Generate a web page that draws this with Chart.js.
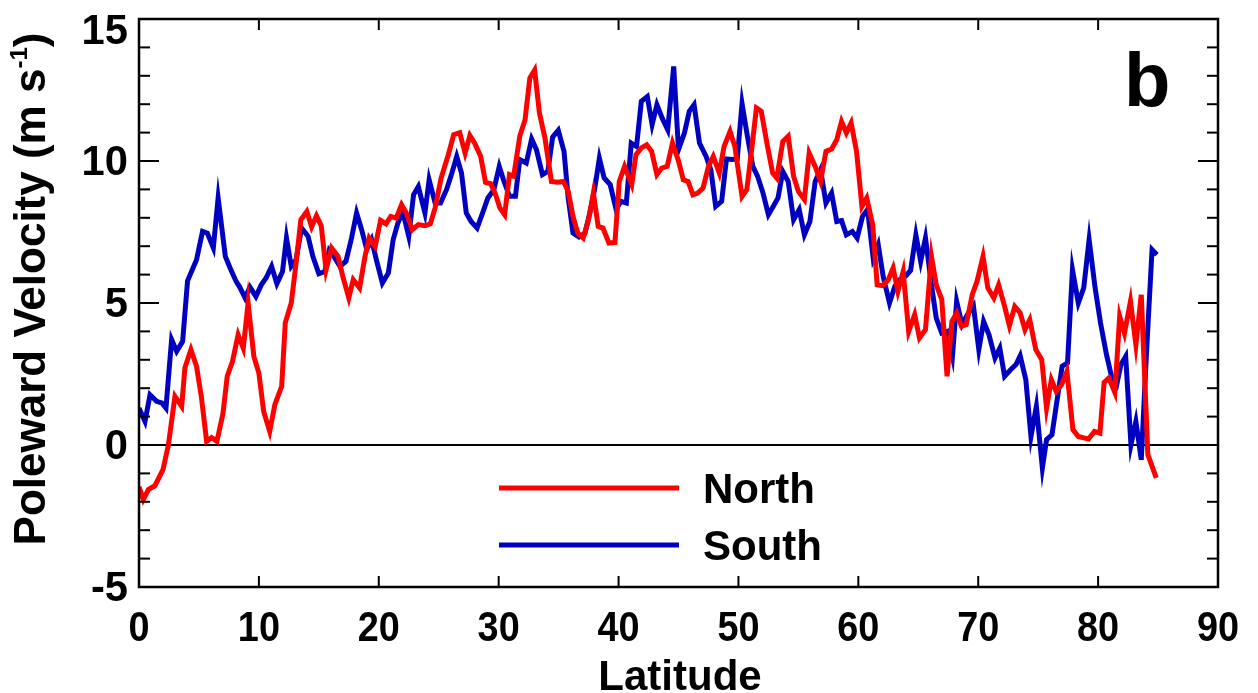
<!DOCTYPE html>
<html>
<head>
<meta charset="utf-8">
<script src="https://cdn.jsdelivr.net/npm/chart.js@4.4.1/dist/chart.umd.min.js"></script>
<style>
  html, body { margin: 0; padding: 0; background: #fff; }
  #wrap { width: 1258px; height: 693px; }
</style>
</head>
<body>
<div id="wrap"><canvas id="velChart" width="1258" height="693"></canvas></div>
<script>
// latitude of each vertex and poleward velocity (m/s)
const northLat = [0, 0.36, 0.78, 1.33, 2.0, 2.45, 3.0, 3.56, 3.83, 4.33, 4.8, 5.2, 5.64, 6.06, 6.5, 7.0, 7.36, 7.8, 8.27, 8.7,
  9.1, 9.58, 10.0, 10.4, 10.9, 11.33, 11.9, 12.2, 12.7, 13.1, 13.5, 14.0, 14.4, 14.8, 15.2, 15.6, 16.06, 16.6, 17.0, 17.5,
  17.87, 18.4, 18.85, 19.2, 19.7, 20.15, 20.6, 21.0, 21.45, 21.9, 22.3, 22.8, 23.3, 23.85, 24.3, 24.7, 25.2, 25.8, 26.25, 26.75,
  27.2, 27.6, 28.0, 28.5, 28.9, 29.33, 29.7, 30.1, 30.5, 30.9, 31.25, 31.76, 32.2, 32.6, 33.0, 33.4, 33.86, 34.4, 34.9, 35.4,
  35.8, 36.2, 36.6, 37.05, 37.5, 37.9, 38.3, 38.7, 39.2, 39.7, 40.06, 40.5, 41.1, 41.45, 41.9, 42.35, 42.76, 43.2, 43.6, 44.06,
  44.5, 45.0, 45.4, 45.8, 46.2, 46.6, 47.05, 47.5, 47.9, 48.4, 48.8, 49.3, 49.7, 50.3, 50.7, 51.1, 51.5, 51.9, 52.4, 52.85,
  53.2, 53.7, 54.15, 54.6, 55.0, 55.5, 55.9, 56.4, 56.85, 57.3, 57.77, 58.2, 58.6, 59.0, 59.4, 59.85, 60.3, 60.7, 61.2, 61.57,
  62.0, 62.5, 62.9, 63.3, 63.74, 64.2, 64.7, 65.1, 65.6, 66.1, 66.5, 66.96, 67.4, 67.8, 68.2, 68.6, 69.0, 69.5, 69.9, 70.4,
  70.8, 71.3, 71.7, 72.2, 72.6, 73.05, 73.5, 73.9, 74.3, 74.8, 75.3, 75.7, 76.1, 76.5, 76.95, 77.4, 77.9, 78.35, 78.8, 79.2,
  79.7, 80.15, 80.5, 80.9, 81.4, 81.8, 82.2, 82.7, 83.15, 83.6, 84.15, 84.85];
const northVel = [-1.47, -1.92, -1.57, -1.43, -0.87, 0.0, 1.71, 1.36, 2.72, 3.36, 2.77, 1.7, 0.13, 0.26, 0.13, 1.1, 2.42, 2.95, 3.88, 3.41,
  5.0, 3.12, 2.53, 1.18, 0.48, 1.42, 2.06, 4.3, 5.0, 6.4, 7.93, 8.22, 7.68, 8.07, 7.72, 6.17, 6.94, 6.64, 5.94, 5.18,
  5.82, 5.53, 6.64, 7.29, 6.99, 7.91, 7.79, 8.05, 7.99, 8.46, 8.17, 7.58, 7.76, 7.72, 7.79, 8.35, 9.4, 10.22, 10.93, 11.0,
  10.28, 10.9, 10.63, 10.16, 9.25, 9.2, 8.87, 8.35, 8.11, 9.52, 9.46, 10.87, 11.45, 12.92, 13.2, 11.69, 10.81, 9.28, 9.25, 9.28,
  8.93, 8.05, 7.46, 7.29, 7.93, 8.87, 7.7, 7.64, 7.11, 7.13, 9.28, 9.81, 9.17, 10.22, 10.46, 10.57, 10.34, 9.52, 9.75, 9.81,
  10.63, 10.0, 9.34, 9.28, 8.81, 8.87, 9.05, 9.81, 10.16, 9.58, 10.51, 11.04, 10.51, 8.75, 8.99, 10.4, 11.87, 11.75, 10.57, 9.58,
  9.4, 10.69, 10.87, 9.46, 8.93, 8.64, 10.28, 9.81, 9.28, 10.34, 10.42, 10.75, 11.39, 10.99, 11.34, 10.34, 8.4, 8.7, 7.75, 5.64,
  5.61, 5.82, 6.23, 5.41, 6.11, 4.0, 4.59, 3.77, 4.06, 6.64, 5.64, 5.12, 2.42, 4.35, 4.65, 4.18, 4.24, 5.29, 5.76, 6.64,
  5.53, 5.18, 5.64, 4.88, 4.2, 4.88, 4.65, 4.06, 4.41, 3.36, 3.0, 1.3, 2.3, 1.89, 2.12, 2.59, 0.54, 0.3, 0.25, 0.21,
  0.48, 0.42, 2.2, 2.36, 1.85, 4.53, 3.94, 5.06, 3.53, 5.29, -0.34, -1.16];

const southLat = [0, 0.5, 0.92, 1.47, 1.9, 2.25, 2.72, 3.14, 3.64, 4.05, 4.8, 5.3, 5.7, 6.2, 6.6, 7.2, 7.6, 8.1, 8.4, 8.85,
  9.25, 9.75, 10.2, 10.6, 11.06, 11.5, 11.97, 12.3, 12.7, 13.1, 13.56, 14.1, 14.5, 15.0, 15.5, 15.87, 16.26, 16.76, 17.26, 17.73,
  18.15, 18.57, 19.0, 19.4, 19.8, 20.3, 20.8, 21.2, 21.6, 22.0, 22.5, 22.9, 23.3, 23.85, 24.2, 24.7, 25.15, 25.65, 26.1, 26.5,
  26.9, 27.3, 27.7, 28.2, 28.7, 29.1, 29.6, 30.05, 30.4, 30.9, 31.4, 31.76, 32.3, 32.75, 33.15, 33.65, 34.1, 34.5, 34.97, 35.45,
  35.8, 36.2, 36.7, 37.2, 37.6, 38.0, 38.4, 38.8, 39.3, 39.8, 40.2, 40.65, 41.06, 41.5, 41.9, 42.4, 42.8, 43.2, 43.65, 44.1,
  44.6, 45.0, 45.5, 45.9, 46.3, 46.75, 47.3, 47.7, 48.1, 48.6, 49.0, 49.45, 49.9, 50.3, 50.7, 51.2, 51.6, 52.05, 52.5, 52.9,
  53.3, 53.7, 54.15, 54.6, 55.07, 55.5, 55.96, 56.4, 56.85, 57.3, 57.77, 58.2, 58.6, 59.0, 59.5, 59.9, 60.35, 60.77, 61.24, 61.66,
  62.07, 62.6, 63.05, 63.5, 63.97, 64.36, 64.8, 65.2, 65.6, 66.1, 66.5, 66.96, 67.4, 67.85, 68.2, 68.65, 69.1, 69.6, 70.05, 70.45,
  70.9, 71.4, 71.8, 72.2, 72.7, 73.15, 73.5, 73.97, 74.4, 74.85, 75.35, 75.7, 76.15, 76.5, 77.0, 77.45, 77.86, 78.35, 78.8, 79.25,
  79.75, 80.2, 80.7, 81.15, 81.55, 81.9, 82.3, 82.74, 83.15, 83.6, 84.05, 84.5, 84.9];
const southVel = [1.3, 0.83, 1.77, 1.54, 1.48, 1.3, 3.71, 3.3, 3.65, 5.78, 6.52, 7.52, 7.46, 6.94, 8.7, 6.64, 6.23, 5.76, 5.56, 5.18,
  5.56, 5.23, 5.64, 5.88, 6.29, 5.68, 6.11, 7.29, 6.29, 6.52, 7.64, 7.35, 6.64, 6.03, 6.11, 6.85, 6.64, 6.29, 6.47, 7.29,
  8.17, 7.58, 6.88, 7.23, 6.52, 5.7, 6.06, 7.23, 7.82, 8.22, 7.35, 8.81, 9.1, 8.17, 9.34, 8.52, 8.52, 8.99, 9.58, 10.16,
  9.58, 8.17, 7.87, 7.64, 8.22, 8.7, 8.99, 9.81, 9.34, 8.76, 8.76, 10.05, 9.93, 10.77, 10.4, 9.52, 9.63, 10.84, 11.08, 10.34,
  8.7, 7.46, 7.32, 7.46, 8.17, 8.99, 10.1, 9.4, 9.17, 8.29, 8.58, 8.52, 10.63, 10.51, 12.1, 12.27, 11.28, 11.98, 11.5, 11.1,
  13.33, 10.4, 10.99, 11.75, 11.98, 10.63, 10.16, 9.69, 8.4, 8.58, 10.07, 10.05, 10.07, 12.02, 10.99, 9.81, 9.46, 8.87, 8.11, 8.4,
  8.7, 9.63, 9.28, 7.93, 8.29, 7.4, 7.87, 9.28, 9.69, 8.52, 8.87, 7.87, 7.9, 7.4, 7.52, 7.29, 8.05, 8.29, 6.58, 7.05,
  5.94, 5.0, 5.59, 5.84, 5.96, 6.15, 7.4, 6.47, 7.29, 5.64, 4.47, 3.94, 4.0, 3.12, 5.06, 4.24, 4.59, 4.9, 3.36, 4.35,
  3.88, 3.06, 3.41, 2.42, 2.65, 2.83, 3.14, 2.3, 0.3, 1.36, -0.81, 0.19, 0.36, 1.36, 2.77, 2.89, 6.17, 5.0, 5.53, 7.23,
  5.53, 4.3, 3.18, 2.36, 2.12, 2.83, 3.12, 0.01, 0.83, -0.52, 3.36, 6.88, 6.7];

const xTicks = [0, 10, 20, 30, 40, 50, 60, 70, 80, 90];
const yTicks = [-5, 0, 5, 10, 15];
const yMinorStep = 1;

const RED = '#ff0000';
const BLUE = '#0000c0';
const FONT = '"Liberation Sans", Arial, sans-serif';

function toPoints(lat, vel) {
    return lat.map((x, i) => ({ x: x, y: vel[i] }));
}

// frame, inward ticks, labels, legend, panel letter
const framePlugin = {
    id: 'framePlugin',
    afterDraw(chart) {
        const ctx = chart.ctx;
        const a = chart.chartArea;
        const xs = chart.scales.x;
        const ys = chart.scales.y;
        const seg = (x1, y1, x2, y2) => { ctx.beginPath(); ctx.moveTo(x1, y1); ctx.lineTo(x2, y2); ctx.stroke(); };

        ctx.save();
        ctx.strokeStyle = '#000';
        ctx.lineWidth = 2;
        for (let v = ys.min; v <= ys.max; v += yMinorStep) {
            const py = ys.getPixelForValue(v);
            const len = yTicks.includes(v) ? 20 : 11;
            seg(a.left, py, a.left + len, py);
            seg(a.right - len, py, a.right, py);
        }
        xTicks.forEach(v => {
            const px = xs.getPixelForValue(v);
            seg(px, a.bottom, px, a.bottom - 11);
            seg(px, a.top, px, a.top + 11);
        });
        ctx.lineWidth = 2.5;
        ctx.strokeRect(a.left, a.top, a.right - a.left, a.bottom - a.top);

        ctx.fillStyle = '#000';
        // x tick labels (slightly condensed, like the original)
        ctx.font = 'bold 43px ' + FONT;
        ctx.textAlign = 'center';
        ctx.textBaseline = 'alphabetic';
        xTicks.forEach(v => {
            ctx.save();
            ctx.translate(xs.getPixelForValue(v), 641);
            ctx.scale(0.88, 1);
            ctx.fillText(String(v), 0, 0);
            ctx.restore();
        });
        // y tick labels; the top one is kept below the frame top
        ctx.textAlign = 'right';
        ctx.textBaseline = 'middle';
        yTicks.forEach(v => {
            const py = Math.max(ys.getPixelForValue(v) + 2, a.top + 13);
            ctx.save();
            ctx.translate(128, py);
            ctx.scale(0.97, 1);
            ctx.fillText(String(v), 0, 0);
            ctx.restore();
        });

        // x title
        ctx.textAlign = 'center';
        ctx.textBaseline = 'alphabetic';
        ctx.font = 'bold 42px ' + FONT;
        ctx.fillText('Latitude', 680, 690);

        // y title with superscript
        ctx.save();
        ctx.translate(45, 289);
        ctx.rotate(-Math.PI / 2);
        const main = 'Poleward Velocity (m s';
        const sup = '-1';
        const tail = ')';
        ctx.font = 'bold 44px ' + FONT;
        const wMain = ctx.measureText(main).width;
        const wTail = ctx.measureText(tail).width;
        ctx.font = 'bold 24px ' + FONT;
        const wSup = ctx.measureText(sup).width;
        let x0 = -(wMain + wSup + wTail) / 2;
        ctx.textAlign = 'left';
        ctx.font = 'bold 44px ' + FONT;
        ctx.fillText(main, x0, 0);
        ctx.font = 'bold 24px ' + FONT;
        ctx.fillText(sup, x0 + wMain, -18);
        ctx.font = 'bold 44px ' + FONT;
        ctx.fillText(tail, x0 + wMain + wSup, 0);
        ctx.restore();

        // legend
        const legendRows = [
            { y: 488, ds: chart.data.datasets[0] },
            { y: 545, ds: chart.data.datasets[1] }
        ];
        ctx.lineWidth = 5;
        ctx.font = 'bold 42px ' + FONT;
        ctx.textAlign = 'left';
        legendRows.forEach(r => {
            ctx.strokeStyle = r.ds.borderColor;
            seg(499, r.y, 679, r.y);
            ctx.fillText(r.ds.label, 703, r.y + 15);
        });

        // panel letter
        ctx.font = 'bold 76px ' + FONT;
        ctx.fillText('b', 1124, 106);
        ctx.restore();
    }
};

document.addEventListener('DOMContentLoaded', function() {
    const ctx = document.getElementById('velChart').getContext('2d');
    new Chart(ctx, {
        type: 'line',
        data: {
            datasets: [
                {
                    label: 'North',
                    data: toPoints(northLat, northVel),
                    borderColor: RED,
                    borderWidth: 5,
                    pointRadius: 0,
                    tension: 0,
                    borderJoinStyle: 'miter'
                },
                {
                    label: 'South',
                    data: toPoints(southLat, southVel),
                    borderColor: BLUE,
                    borderWidth: 5,
                    pointRadius: 0,
                    tension: 0,
                    borderJoinStyle: 'miter'
                }
            ]
        },
        options: {
            responsive: false,
            animation: false,
            layout: { padding: { top: 19, right: 40, left: 0, bottom: 0 } },
            plugins: {
                legend: { display: false },
                tooltip: { enabled: false }
            },
            scales: {
                x: {
                    type: 'linear',
                    min: 0,
                    max: 90,
                    ticks: { stepSize: 10, display: false },
                    grid: { display: false },
                    border: { display: false },
                    afterFit: function(scale) { scale.height = 106; }
                },
                y: {
                    type: 'linear',
                    min: -5,
                    max: 15,
                    ticks: { stepSize: 5, display: false },
                    grid: {
                        drawTicks: false,
                        lineWidth: 2,
                        // only the zero line is shown
                        color: c => (c.tick && c.tick.value === 0) ? '#000' : 'rgba(0,0,0,0)'
                    },
                    border: { display: false },
                    afterFit: function(scale) { scale.width = 139; }
                }
            }
        },
        plugins: [framePlugin]
    });
});
</script>
</body>
</html>
